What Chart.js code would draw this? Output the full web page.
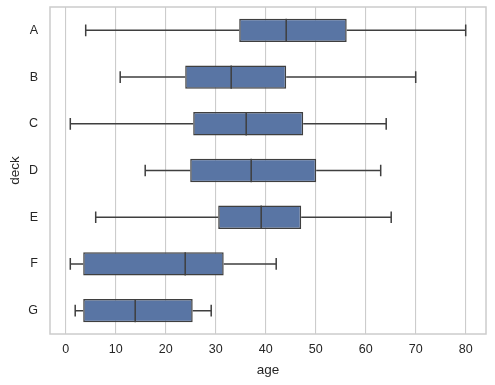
<!DOCTYPE html>
<html>
<head>
<meta charset="utf-8">
<script src="https://cdn.jsdelivr.net/npm/chart.js@4"></script>
<style>
  html, body { margin: 0; padding: 0; background: #fff; }
  canvas { display: block; }
</style>
</head>
<body>
<canvas id="grafico" width="495" height="385"></canvas>
<script>
const decks = ['A', 'B', 'C', 'D', 'E', 'F', 'G'];
const bajo    = [4.0, 10.9, 0.92, 15.9, 6.0, 0.92, 1.9];
const q1      = [34.7, 23.9, 25.5, 24.9, 30.5, 3.5, 3.5];
const mediana = [44.1, 33.1, 36.1, 37.1, 39.1, 23.9, 13.9];
const q3      = [56.2, 44.1, 47.5, 50.1, 47.1, 31.6, 25.4];
const alto    = [80.0, 70.0, 64.1, 63.0, 65.1, 42.1, 29.1];
const ticksX  = [0, 10, 20, 30, 40, 50, 60, 70, 80];

const azul = '#5975a4';
const borde = '#3f3f3f';
const texto = '#262626';

// bigotes, tapas y mediana
const bigotes = {
  id: 'bigotes',
  afterDatasetsDraw(chart) {
    const ctx = chart.ctx;
    const x = chart.scales.x;
    const y = chart.scales.y;
    const paso = y.getPixelForValue(1) - y.getPixelForValue(0);
    const mitad = paso * 0.25;
    const tapa = paso * 0.125;
    ctx.save();
    ctx.strokeStyle = borde;
    ctx.lineWidth = 1.5;
    decks.forEach((d, i) => {
      const cy = y.getPixelForValue(i);
      ctx.beginPath();
      ctx.moveTo(x.getPixelForValue(bajo[i]), cy);
      ctx.lineTo(x.getPixelForValue(q1[i]), cy);
      ctx.moveTo(x.getPixelForValue(q3[i]), cy);
      ctx.lineTo(x.getPixelForValue(alto[i]), cy);
      ctx.moveTo(x.getPixelForValue(bajo[i]), cy - tapa);
      ctx.lineTo(x.getPixelForValue(bajo[i]), cy + tapa);
      ctx.moveTo(x.getPixelForValue(alto[i]), cy - tapa);
      ctx.lineTo(x.getPixelForValue(alto[i]), cy + tapa);
      ctx.moveTo(x.getPixelForValue(mediana[i]), cy - mitad);
      ctx.lineTo(x.getPixelForValue(mediana[i]), cy + mitad);
      ctx.stroke();
    });
    const a = chart.chartArea;
    ctx.strokeStyle = '#cccccc';
    ctx.lineWidth = 1.5;
    ctx.strokeRect(a.left, a.top, a.right - a.left, a.bottom - a.top);
    ctx.restore();
  }
};

const ctx1 = document.querySelector('#grafico').getContext('2d');
new Chart(ctx1, {
  type: 'bar',
  data: {
    labels: decks,
    datasets: [{
      data: decks.map((d, i) => [q1[i], q3[i]]),
      backgroundColor: azul,
      borderColor: borde,
      borderWidth: 1.5,
      borderSkipped: false,
      barPercentage: 0.5,
      categoryPercentage: 1.0
    }]
  },
  options: {
    indexAxis: 'y',
    responsive: false,
    animation: false,
    events: [],
    layout: { padding: { top: 7, right: 9, left: 0, bottom: 0 } },
    plugins: { legend: { display: false }, tooltip: { enabled: false } },
    scales: {
      x: {
        type: 'linear',
        min: -3.14,
        max: 84.06,
        afterBuildTicks: s => { s.ticks = ticksX.map(v => ({ value: v })); },
        afterFit: s => { s.height = 51; s.paddingLeft = 0; s.paddingRight = 0; },
        grid: { color: '#cccccc', lineWidth: 1.1, drawTicks: false },
        border: { display: false },
        ticks: { color: texto, padding: 8, font: { family: 'Liberation Sans, Arial', size: 12.5 } },
        title: { display: true, text: 'age', color: texto, padding: { top: 2, bottom: 7 }, font: { family: 'Liberation Sans, Arial', size: 13.5 } }
      },
      y: {
        afterFit: s => { s.width = 50; s.paddingTop = 0; s.paddingBottom = 0; },
        grid: { display: false, drawTicks: false },
        border: { display: false },
        ticks: { color: texto, padding: 12, autoSkip: false, font: { family: 'Liberation Sans, Arial', size: 12.5 } },
        title: { display: true, text: 'deck', color: texto, padding: { top: 7, bottom: 0 }, font: { family: 'Liberation Sans, Arial', size: 13.5 } }
      }
    }
  },
  plugins: [bigotes]
});
</script>
</body>
</html>
